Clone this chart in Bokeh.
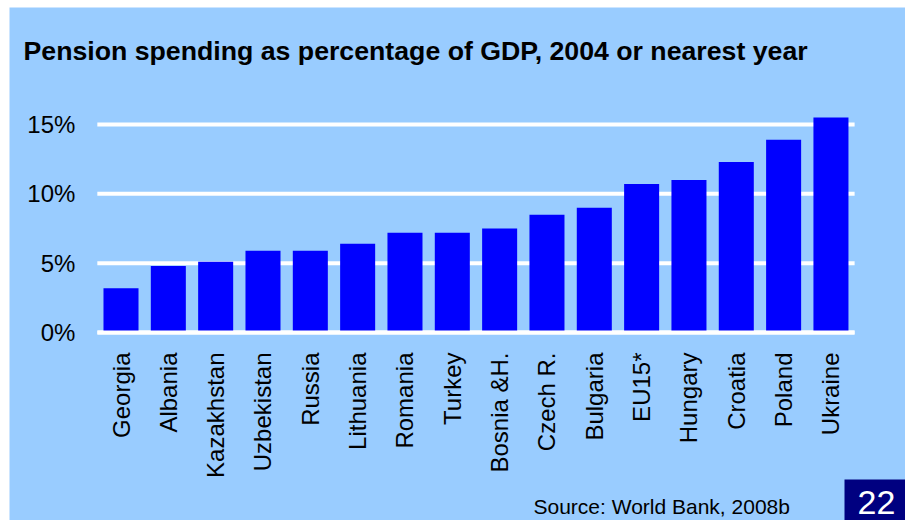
import math
from bokeh.plotting import figure
from bokeh.models import (ColumnDataSource, Range1d, FixedTicker, PrintfTickFormatter,
                          Label, BoxAnnotation)
from bokeh.embed import file_html
from bokeh.resources import INLINE

countries = ["Georgia", "Albania", "Kazakhstan", "Uzbekistan", "Russia", "Lithuania",
             "Romania", "Turkey", "Bosnia &H.", "Czech R.", "Bulgaria", "EU15*",
             "Hungary", "Croatia", "Poland", "Ukraine"]
spending = [3.2, 4.8, 5.1, 5.9, 5.9, 6.4, 7.2, 7.2, 7.5, 8.5, 9.0, 10.7,
            11.0, 12.3, 13.9, 15.5]
y_ticks = [0, 5, 10, 15]
title_text = "Pension spending as percentage of GDP, 2004 or nearest year"
source_text = "Source: World Bank, 2008b"
page_number = "22"

BG = "#99CCFF"
FONT = "Liberation Sans"

# figure size / page offset
W, H = 896, 513
OX, OY = 9, 7
# layout mapping (pixels on page)
X_STEP, X_FIRST = 47.33, 120.5
Y_STEP, Y_ZERO = 13.867, 332.0

idx = list(range(len(countries)))
src = ColumnDataSource(dict(x=idx, value=spending, country=countries))

x_range = Range1d((OX - X_FIRST) / X_STEP, (OX + W - X_FIRST) / X_STEP)
y_range = Range1d(-(OY + H - Y_ZERO) / Y_STEP, (Y_ZERO - OY) / Y_STEP)

p = figure(width=W, height=H, output_backend="svg", toolbar_location=None,
           x_range=x_range, y_range=y_range, min_border=0)
p.styles = {"margin-left": f"{OX}px", "margin-top": f"{OY}px"}
p.background_fill_color = BG
p.border_fill_color = BG
p.outline_line_color = None
p.grid.visible = False

left_edge = idx[0] - 0.5
right_edge = idx[-1] + 0.5

# horizontal grid lines
p.segment(x0=[left_edge] * len(y_ticks), x1=[right_edge] * len(y_ticks),
          y0=y_ticks, y1=y_ticks, line_color="white", line_width=4)

p.vbar(x="x", top="value", bottom=0, width=0.74, source=src,
       color="#0000FF", line_color=None)

ya = p.yaxis[0]
ya.fixed_location = left_edge
ya.ticker = FixedTicker(ticks=y_ticks)
ya.formatter = PrintfTickFormatter(format="%d%%")
ya.axis_line_color = None
ya.major_tick_line_color = None
ya.minor_tick_line_color = None
ya.major_tick_in = 0
ya.major_tick_out = 0
ya.major_label_standoff = 22
ya.major_label_text_font = FONT
ya.major_label_text_font_size = "24px"
ya.major_label_text_color = "black"

xa = p.xaxis[0]
xa.fixed_location = 0
xa.ticker = FixedTicker(ticks=idx)
xa.major_label_overrides = {i: c for i, c in zip(idx, countries)}
xa.bounds = (left_edge, right_edge)
xa.axis_line_color = "white"
xa.axis_line_width = 4
xa.major_tick_line_color = None
xa.minor_tick_line_color = None
xa.major_tick_in = 0
xa.major_tick_out = 0
xa.major_label_orientation = math.pi / 2
xa.major_label_standoff = 20
xa.major_label_text_font = FONT
xa.major_label_text_font_size = "24px"
xa.major_label_text_color = "black"

# texts (screen units: from frame left, up from frame bottom)
p.add_layout(Label(x=23 - OX, y=OY + H - 50, x_units="screen", y_units="screen",
                   text=title_text, text_font=FONT, text_font_size="26.7px",
                   text_font_style="bold", text_color="black",
                   text_baseline="alphabetic"))
p.add_layout(Label(x=533 - OX, y=OY + H - 506, x_units="screen", y_units="screen",
                   text=source_text, text_font=FONT, text_font_size="21px",
                   text_color="black", text_baseline="alphabetic"))
p.add_layout(BoxAnnotation(left=844 - OX, right=W, bottom=0, top=OY + H - 479,
                           left_units="screen", right_units="screen",
                           bottom_units="screen", top_units="screen",
                           fill_color="#000080", fill_alpha=1, line_color=None))
p.add_layout(Label(x=876 - OX, y=OY + H - 502, x_units="screen", y_units="screen",
                   text=page_number, text_font=FONT, text_font_size="34px",
                   text_color="white", text_align="center",
                   text_baseline="alphabetic"))

open("out.html", "w").write(file_html(p, INLINE))
